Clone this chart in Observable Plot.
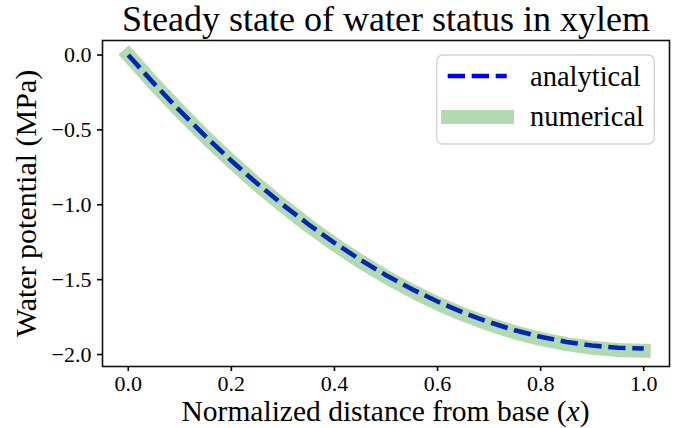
<!DOCTYPE html>
<html>
<head>
<meta charset="utf-8">
<script src="https://cdn.jsdelivr.net/npm/d3@7"></script>
<script src="https://cdn.jsdelivr.net/npm/@observablehq/plot@0.6"></script>
<style>
  html, body { margin: 0; padding: 0; background: white; }
  #wrap { position: relative; width: 678px; height: 428px; }
  #legend { position: absolute; left: 0; top: 0; pointer-events: none; }
</style>
</head>
<body>
<div id="wrap"></div>
<script>
// ---- data ----
const titleText = "Steady state of water status in xylem";
const yLabelText = "Water potential (MPa)";
const xLabelMain = "Normalized distance from base (";
const xLabelVar = "x";
const xLabelEnd = ")";
const seriesNames = ["analytical", "numerical"];

const xs = [0, 0.05, 0.1, 0.15, 0.2, 0.25, 0.3, 0.35, 0.4, 0.45, 0.5,
            0.55, 0.6, 0.65, 0.7, 0.75, 0.8, 0.85, 0.9, 0.95, 1.0];
const analytical = [0, -0.191, -0.372, -0.544, -0.706, -0.858, -1.000, -1.132, -1.254, -1.367, -1.470,
                    -1.563, -1.646, -1.720, -1.784, -1.838, -1.882, -1.916, -1.940, -1.955, -1.960];
const numerical = [0, -0.193, -0.375, -0.548, -0.711, -0.864, -1.007, -1.141, -1.264, -1.378, -1.481,
                   -1.575, -1.659, -1.733, -1.797, -1.852, -1.896, -1.931, -1.955, -1.970, -1.975];

const xTicks = [0, 0.2, 0.4, 0.6, 0.8, 1.0];
const yTicks = [0, -0.5, -1.0, -1.5, -2.0];

// ---- build ----
const anaData = xs.map((x, i) => ({x, y: analytical[i]}));
const numData = xs.map((x, i) => ({x, y: numerical[i]}));
const fmt = d => d.toFixed(1).replace("-", "\u2212");
const FONT = "Liberation Serif";

const chart = Plot.plot({
  width: 678,
  height: 428,
  marginTop: 40,
  marginRight: 9,
  marginBottom: 62,
  marginLeft: 102,
  x: {domain: [-0.05, 1.05]},
  y: {domain: [-2.08, 0.097]},
  style: {fontFamily: FONT, background: "white", color: "black"},
  marks: [
    Plot.line(anaData, {x: "x", y: "y", stroke: "#0000ff", strokeWidth: 4.6,
      strokeDasharray: "17.3,6.7", strokeLinecap: "butt"}),
    Plot.line(numData, {x: "x", y: "y", stroke: "#008000", strokeOpacity: 0.3,
      strokeWidth: 14, strokeLinecap: "square", strokeLinejoin: "miter"}),
    Plot.frame({stroke: "#111", strokeWidth: 1.6}),
    Plot.axisX(xTicks, {tickFormat: fmt, tickSize: 5, tickPadding: 4, fontSize: 22,
      label: null, strokeWidth: 1.6}),
    Plot.axisY(yTicks, {tickFormat: fmt, tickSize: 5, tickPadding: 6, fontSize: 22,
      label: null, strokeWidth: 1.6}),
    Plot.text([titleText], {frameAnchor: "top", dy: -10, lineAnchor: "bottom",
      fontSize: 36, fill: "black"}),
    Plot.text([yLabelText], {frameAnchor: "left", dx: -67, rotate: -90, lineAnchor: "bottom",
      textAnchor: "middle", fontSize: 30, fill: "black"})
  ]
});

// x label with italic variable
const svg = d3.select(chart);
const xl = svg.append("text")
  .attr("x", (102 + 669) / 2)
  .attr("y", 421)
  .attr("text-anchor", "middle")
  .attr("font-family", FONT)
  .attr("font-size", 29.5)
  .attr("fill", "black");
xl.append("tspan").text(xLabelMain);
xl.append("tspan").attr("font-style", "italic").text(xLabelVar);
xl.append("tspan").text(xLabelEnd);

document.getElementById("wrap").appendChild(chart);

// legend overlay
const lg = d3.select("#wrap").append("svg")
  .attr("id", "legend")
  .attr("width", 678).attr("height", 428);
lg.append("rect")
  .attr("x", 436.7).attr("y", 55).attr("width", 217.6).attr("height", 89)
  .attr("rx", 6).attr("ry", 6)
  .attr("fill", "rgba(255,255,255,0.8)")
  .attr("stroke", "#d4d4d4").attr("stroke-width", 1.4);
lg.append("line")
  .attr("x1", 447.7).attr("x2", 506.7).attr("y1", 76).attr("y2", 76)
  .attr("stroke", "#0000ff").attr("stroke-width", 4.6)
  .attr("stroke-dasharray", "17.3,6.7");
lg.append("line")
  .attr("x1", 448).attr("x2", 507).attr("y1", 117).attr("y2", 117)
  .attr("stroke", "#008000").attr("stroke-opacity", 0.3).attr("stroke-width", 14)
  .attr("stroke-linecap", "square");
lg.selectAll("text.lab").data(seriesNames).join("text")
  .attr("class", "lab")
  .attr("x", 530)
  .attr("y", (d, i) => [86, 126][i])
  .attr("font-family", FONT)
  .attr("font-size", 28.5)
  .attr("fill", "black")
  .text(d => d);
</script>
</body>
</html>
